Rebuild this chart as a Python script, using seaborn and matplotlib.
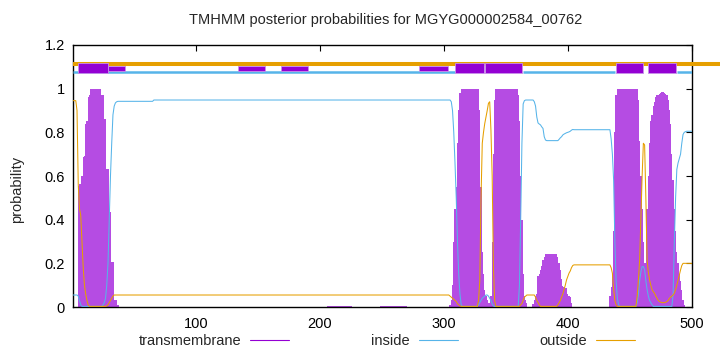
import numpy as np
import pandas as pd
import matplotlib
matplotlib.use("Agg")
import matplotlib.pyplot as plt
from matplotlib.lines import Line2D
import seaborn as sns

# ---------------- data ----------------
title = "TMHMM posterior probabilities for MGYG000002584_00762"
residues = list(range(1, 501))

tm_prob = ([0.0] * 4
           + [0.556, 0.565, 0.565, 0.6, 0.686, 0.69, 0.84, 0.85, 0.96, 0.97]
           + [1.0] * 9
           + [0.97, 0.97, 0.86, 0.86, 0.63, 0.63, 0.435, 0.435, 0.207, 0.207, 0.03, 0.03, 0.03, 0.01]
           + [0.0] * 168
           + [0.003] * 20
           + [0.0] * 23
           + [0.003] * 22
           + [0.0] * 34
           + [0.01, 0.03, 0.1, 0.3, 0.45, 0.55, 0.75, 0.9, 0.98]
           + [1.0] * 15
           + [0.9, 0.55, 0.25, 0.15, 0.08, 0.05, 0.03, 0.02, 0.02]
           + [0.05, 0.3, 0.7, 0.95]
           + [1.0] * 18
           + [0.97, 0.85, 0.6, 0.4, 0.15, 0.05, 0.03, 0.02]
           + [0.0] * 4
           + [0.016, 0.03, 0.05, 0.06, 0.14, 0.15, 0.17, 0.19, 0.215, 0.23, 0.243]
           + [0.243] * 9
           + [0.23, 0.2, 0.17, 0.13, 0.094, 0.09, 0.086, 0.086, 0.06, 0.05, 0.047, 0.02]
           + [0.0] * 30
           + [0.05, 0.09, 0.15, 0.35, 0.8, 0.97]
           + [1.0] * 17
           + [0.95, 0.76, 0.6, 0.45, 0.3, 0.2, 0.2, 0.45, 0.6, 0.75, 0.85, 0.88, 0.92, 0.94,
              0.96, 0.97, 0.97, 0.975, 0.98, 0.983, 0.983, 0.98, 0.975, 0.97, 0.95, 0.9, 0.84,
              0.7, 0.58, 0.45, 0.35, 0.25, 0.2, 0.15, 0.12, 0.08, 0.03, 0.01]
           + [0.0] * 6)

inside_prob = ([0.055] * 4
               + [0.05, 0.03, 0.01]
               + [0.003] * 17
               + [0.01, 0.02, 0.04, 0.1, 0.2, 0.4, 0.6, 0.75, 0.88, 0.92, 0.935, 0.94]
               + [0.942] * 29
               + [0.948] * 240
               + [0.94, 0.9, 0.8, 0.66, 0.5, 0.3, 0.15, 0.06, 0.01]
               + [0.003] * 13
               + [0.01, 0.02, 0.03, 0.04, 0.045, 0.05, 0.055, 0.055, 0.05, 0.04, 0.03, 0.015, 0.005]
               + [0.003] * 20
               + [0.1, 0.4, 0.75, 0.93, 0.945, 0.948]
               + [0.948] * 6
               + [0.94, 0.92, 0.87, 0.843, 0.838, 0.834, 0.825, 0.818, 0.78, 0.765]
               + [0.762] * 10
               + [0.768, 0.775, 0.78, 0.788, 0.792, 0.795, 0.798, 0.8, 0.802, 0.805, 0.81, 0.813]
               + [0.812] * 30
               + [0.77, 0.7, 0.58, 0.3, 0.12, 0.04, 0.01]
               + [0.003] * 14
               + [0.02, 0.06, 0.12, 0.16, 0.185, 0.185, 0.17, 0.12, 0.08, 0.05, 0.03, 0.02, 0.01]
               + [0.003] * 16
               + [0.06, 0.3, 0.5, 0.63, 0.66, 0.68, 0.7, 0.75, 0.79, 0.8, 0.803]
               + [0.805] * 5)

outside_prob = ([0.945] * 3
                + [0.9, 0.56, 0.45, 0.42, 0.3, 0.18, 0.1, 0.06, 0.03, 0.01]
                + [0.003] * 14
                + [0.005, 0.01, 0.02, 0.03, 0.04, 0.05]
                + [0.055] * 271
                + [0.05, 0.045, 0.04, 0.035, 0.03, 0.025, 0.015, 0.01, 0.005]
                + [0.003] * 14
                + [0.03, 0.12, 0.5, 0.75, 0.8, 0.84, 0.87, 0.9, 0.933, 0.94, 0.81, 0.6, 0.185, 0.03]
                + [0.003] * 20
                + [0.01, 0.016, 0.03, 0.045, 0.05, 0.055]
                + [0.055] * 6
                + [0.045, 0.03, 0.02, 0.01]
                + [0.003] * 14
                + [0.01, 0.02, 0.03, 0.045, 0.06, 0.08, 0.1, 0.124, 0.14, 0.155, 0.165, 0.18, 0.19]
                + [0.193] * 30
                + [0.18, 0.155, 0.08, 0.03, 0.01]
                + [0.003] * 16
                + [0.05, 0.124, 0.215, 0.4, 0.6, 0.75, 0.742, 0.5, 0.215, 0.16, 0.124, 0.1, 0.08,
                   0.07, 0.063, 0.05, 0.04, 0.03, 0.025, 0.022, 0.02, 0.02, 0.02, 0.022, 0.025,
                   0.03, 0.04, 0.045, 0.05, 0.055, 0.063, 0.08, 0.1, 0.124, 0.15, 0.17, 0.19, 0.2]
                + [0.2] * 7)

# predicted topology strip at the top (residue start, end)
tm_segments = [(5, 29), (309, 332), (333, 363), (439, 461), (465, 487)]
weak_tm_segments = [(29, 43), (134, 156), (169, 190), (280, 303)]
inside_segments = [(1, 309), (364, 438), (488, 500)]
outside_segments = [(1, 523)]

xtick_values = [100, 200, 300, 400, 500]
ytick_values = [0, 0.2, 0.4, 0.6, 0.8, 1.0, 1.2]
ytick_labels = ["0", "0.2", "0.4", "0.6", "0.8", "1", "1.2"]
legend_labels = ["transmembrane", "inside", "outside"]

# ---------------- style ----------------
sns.set_style("white")
plt.rcParams["font.family"] = ["Liberation Sans", "DejaVu Sans"]
plt.rcParams["font.size"] = 10.5

PURPLE = "#9400D3"
TM_FILL = "#b54ce3"
BLUE = "#56B4E9"
ORANGE = "#E69F00"

n = min(len(residues), len(tm_prob), len(inside_prob), len(outside_prob))
df = pd.DataFrame({
    "residue": residues[:n],
    "transmembrane": tm_prob[:n],
    "inside": inside_prob[:n],
    "outside": outside_prob[:n],
})

fig = plt.figure(figsize=(7.2, 3.52), dpi=100)
ax = fig.add_axes([0.1018, 0.1278, 0.8589, 0.7444])

# transmembrane probability as impulses
ax.bar(df["residue"], df["transmembrane"], width=1.0, color=TM_FILL,
       linewidth=0, zorder=2)

# inside / outside probability curves
sns.lineplot(data=df, x="residue", y="inside", color=BLUE, lw=0.75, ax=ax, zorder=3)
sns.lineplot(data=df, x="residue", y="outside", color=ORANGE, lw=0.75, ax=ax, zorder=3)

# topology strip
for s, e in outside_segments:
    ax.plot([s, e], [1.113, 1.113], color=ORANGE, lw=2.9, solid_capstyle="butt",
            clip_on=False, zorder=4)
for s, e in inside_segments:
    ax.plot([s, e], [1.076, 1.076], color=BLUE, lw=1.8, solid_capstyle="butt", zorder=4)
ax.broken_barh([(s, e - s) for s, e in weak_tm_segments], (1.083, 0.023),
               facecolor=PURPLE, edgecolor="#c890ea", lw=0.6, zorder=5)
ax.broken_barh([(s, e - s) for s, e in tm_segments], (1.071, 0.048),
               facecolor=PURPLE, edgecolor="#c890ea", lw=0.6, zorder=6)

# axes
ax.set_xlim(1, 500)
ax.set_ylim(0, 1.2)
ax.set_xticks(xtick_values)
ax.set_xticklabels([str(v) for v in xtick_values])
ax.set_yticks(ytick_values)
ax.set_yticklabels(ytick_labels)
ax.tick_params(direction="in", length=4, width=0.8, top=True, right=True,
               labelsize=10.5, colors="black")
ax.tick_params(axis="x", pad=7)
ax.tick_params(axis="y", pad=6)
for sp in ax.spines.values():
    sp.set_color("black")
    sp.set_linewidth(1.0)
ax.set_xlabel("")
ax.set_ylabel("probability", fontsize=10.5)
ax.yaxis.set_label_coords(-0.08, 0.45)

fig.text(0.536, 0.943, title, ha="center", va="center", fontsize=10.5)

handles = [Line2D([0], [0], color=PURPLE, lw=0.8),
           Line2D([0], [0], color=BLUE, lw=0.8),
           Line2D([0], [0], color=ORANGE, lw=0.8)]
fig.legend(handles, legend_labels, loc="center", bbox_to_anchor=(0.5375, 0.031),
           ncol=3, frameon=False, markerfirst=False, handlelength=2.7,
           handletextpad=0.6, columnspacing=5.6, fontsize=10.5)

fig.savefig("out.png", dpi=100)
